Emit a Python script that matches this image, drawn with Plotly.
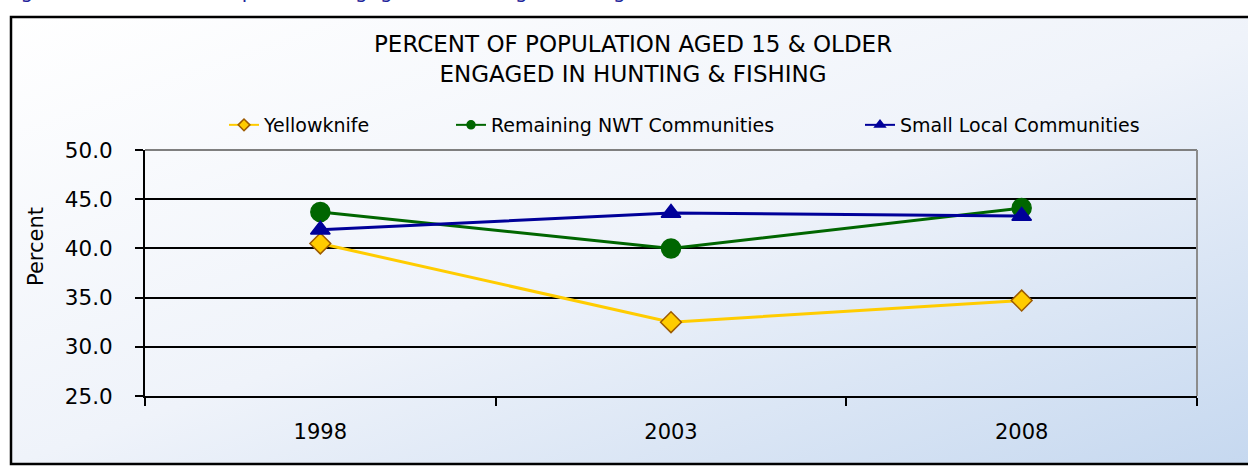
import base64
import plotly.graph_objects as go

# ---------------- data ----------------
years = ["1998", "2003", "2008"]
yellowknife = [40.5, 32.5, 34.7]
remaining_nwt = [43.7, 40.0, 44.1]
small_local = [41.9, 43.6, 43.3]

series_names = ["Yellowknife", "Remaining NWT Communities", "Small Local Communities"]
y_ticks = [25, 30, 35, 40, 45, 50]

title_text = "PERCENT OF POPULATION AGED 15 & OLDER<br>ENGAGED IN HUNTING & FISHING"
caption_text = "Figure 12: Percent of Population Engaged in Hunting & Fishing"
y_title = "Percent"

# ---------------- geometry (pixels) ----------------
W, H = 1248, 466
L, R, T, B = 145, 1197, 150, 396          # plot area
PW, PH = R - L, B - T


def px(x):
    return (x - L) / PW


def py(y):
    return (B - y) / PH


FONT = "DejaVu Sans"

# gradient background as svg image
svg = (
    '<svg xmlns="http://www.w3.org/2000/svg" width="1000" height="400" '
    'viewBox="0 0 1000 400" preserveAspectRatio="none">'
    '<defs><linearGradient id="g" x1="0" y1="0" x2="1" y2="1">'
    '<stop offset="0" stop-color="#ffffff"/>'
    '<stop offset="0.5" stop-color="#eff3fa"/>'
    '<stop offset="1" stop-color="#c4d7ef"/>'
    '</linearGradient></defs>'
    '<rect width="1000" height="400" fill="url(#g)"/></svg>'
)
svg_uri = "data:image/svg+xml;base64," + base64.b64encode(svg.encode()).decode()

fig = go.Figure()

styles = [
    dict(color="#FFCC00", symbol="diamond", size=16, mline="#9C5A00", lsize=9),
    dict(color="#006600", symbol="circle", size=19, mline="#006600", lsize=8),
    dict(color="#000099", symbol="triangle-up", size=17, mline="#000099", lsize=9),
]
data = [yellowknife, remaining_nwt, small_local]
legends = ["legend", "legend2", "legend3"]

for name, vals, st, lg in zip(series_names, data, styles, legends):
    fig.add_trace(go.Scatter(
        x=years, y=vals, mode="lines+markers", name=name, showlegend=False,
        line=dict(color=st["color"], width=3),
        marker=dict(symbol=st["symbol"], size=st["size"], color=st["color"],
                    line=dict(color=st["mline"], width=1.5)),
    ))
    # legend entry with small marker
    fig.add_trace(go.Scatter(
        x=[None], y=[None], mode="lines+markers", name=name, legend=lg,
        line=dict(color=st["color"], width=2),
        marker=dict(symbol=st["symbol"], size=st["lsize"], color=st["color"],
                    line=dict(color=st["mline"], width=1.5)),
    ))

leg_common = dict(
    bgcolor="rgba(0,0,0,0)", borderwidth=0,
    font=dict(family=FONT, size=19, color="#000000"),
    yanchor="middle", y=py(125), xanchor="left", orientation="h",
)
text_starts = [266, 493, 902]
fig.update_layout(
    legend=dict(x=px(text_starts[0] - 42), **leg_common),
    legend2=dict(x=px(text_starts[1] - 42), **leg_common),
    legend3=dict(x=px(text_starts[2] - 42), **leg_common),
)

fig.update_layout(
    width=W, height=H,
    margin=dict(l=L, r=W - R, t=T, b=H - B, pad=0),
    paper_bgcolor="#ffffff",
    plot_bgcolor="rgba(0,0,0,0)",
    font=dict(family=FONT, color="#000000"),
    xaxis=dict(
        type="category", range=[-0.5, 2.5], tickson="boundaries",
        showline=True, linecolor="#000000", linewidth=2,
        ticks="outside", ticklen=8, tickwidth=2, tickcolor="#000000",
        showgrid=False, tickfont=dict(size=21, family=FONT),
        ticklabelstandoff=16,
    ),
    yaxis=dict(
        range=[25, 50], tickvals=y_ticks, tickformat=".1f",
        showline=True, linecolor="#000000", linewidth=2,
        ticks="outside", ticklen=8, tickwidth=2, tickcolor="#000000",
        showgrid=True, gridcolor="#000000", gridwidth=1.5,
        zeroline=False, tickfont=dict(size=21.5, family=FONT),
        ticklabelstandoff=18,
    ),
    images=[dict(
        source=svg_uri, xref="paper", yref="paper",
        x=px(11), y=py(17), sizex=px(1300) - px(11), sizey=py(17) - py(464),
        xanchor="left", yanchor="top", sizing="stretch", layer="below",
    )],
    shapes=[
        dict(type="rect", xref="paper", yref="paper",
             x0=px(11), x1=px(1300), y0=py(464), y1=py(17),
             line=dict(color="#000000", width=2.5), fillcolor="rgba(0,0,0,0)"),
        dict(type="line", xref="paper", yref="paper", x0=0, x1=1, y0=1, y1=1,
             line=dict(color="#7f7f7f", width=2)),
        dict(type="line", xref="paper", yref="paper", x0=1, x1=1, y0=0, y1=1,
             line=dict(color="#8c8c8c", width=2)),
    ],
    annotations=[
        dict(text=title_text, xref="paper", yref="paper", x=px(633), y=py(59.5),
             xanchor="center", yanchor="middle", showarrow=False,
             font=dict(family=FONT, size=23, color="#000000")),
        dict(text=y_title, xref="paper", yref="paper", x=px(36), y=py(247),
             xanchor="center", yanchor="middle", textangle=-90, showarrow=False,
             font=dict(family=FONT, size=21, color="#000000")),
        dict(text=caption_text, xref="paper", yref="paper", x=px(3), y=py(-9),
             xanchor="left", yanchor="middle", showarrow=False,
             font=dict(family=FONT, size=20, color="#22229A")),
    ],
)

fig.write_html("out.html")
